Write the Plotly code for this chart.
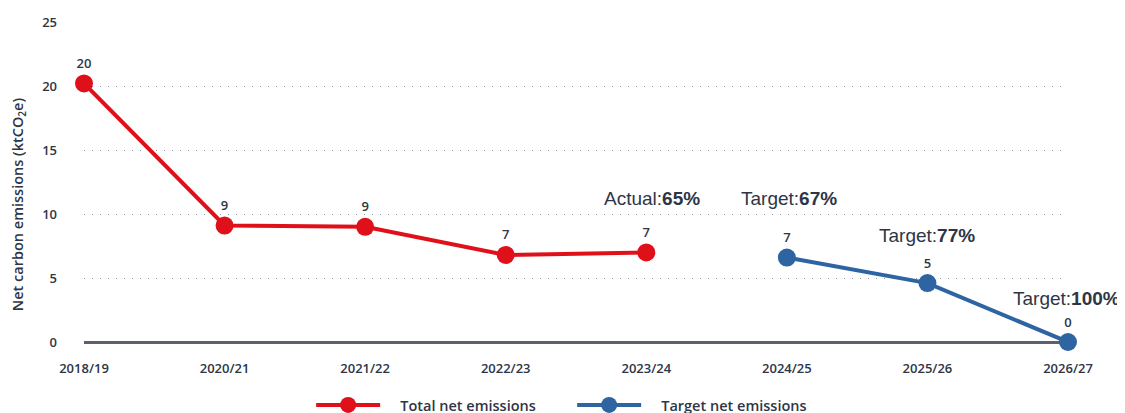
import plotly.graph_objects as go

# Net carbon emissions, ktCO2e
years = ["2018/19", "2020/21", "2021/22", "2022/23", "2023/24", "2024/25", "2025/26", "2026/27"]
actual_years = years[:5]
actual_values = [20.2, 9.1, 9.0, 6.8, 7.0]
target_years = years[5:]
target_values = [6.6, 4.6, 0.0]

# reduction labels shown above the last actual point and the targets
callout_years = ["2023/24", "2024/25", "2025/26", "2026/27"]
callout_prefix = ["Actual:", "Target:", "Target:", "Target:"]
callout_pct = ["65%", "67%", "77%", "100%"]
callout_y = [11.2, 11.2, 8.3, 3.4]
callout_shift = [6, 2, 0, -2]

y_title = "Net carbon emissions (ktCO<sub>2</sub>e)"

red = "#e0101b"
blue = "#2e64a2"
dark = "#2e3546"
gap = "\u00a0" * 4  # space between legend symbol and its text

fig = go.Figure()

fig.add_trace(go.Scatter(
    x=actual_years, y=actual_values, name=gap + "Total net emissions",
    mode="lines+markers+text",
    line=dict(color=red, width=4),
    marker=dict(color=red, size=18),
    text=[f"{v:.0f}" for v in actual_values],
    textposition="top center",
    textfont=dict(family="Open Sans", size=13, color=dark, weight=600),
    cliponaxis=False,
))

fig.add_trace(go.Scatter(
    x=target_years, y=target_values, name=gap + "Target net emissions",
    mode="lines+markers+text",
    line=dict(color=blue, width=4),
    marker=dict(color=blue, size=18),
    text=[f"{v:.0f}" for v in target_values],
    textposition="top center",
    textfont=dict(family="Open Sans", size=13, color=dark, weight=600),
    cliponaxis=False,
))

for yr, pre, pct, yv, dx in zip(callout_years, callout_prefix, callout_pct, callout_y, callout_shift):
    fig.add_annotation(
        x=yr, y=yv, text=f"{pre}<b>{pct}</b>", showarrow=False, xshift=dx,
        font=dict(family="Liberation Sans", size=19, color=dark),
    )

# y axis title as a rotated annotation (the axis title jumps when the legend sits below the plot)
fig.add_annotation(
    text=y_title, textangle=-90, showarrow=False,
    xref="paper", yref="paper", x=-0.067, y=0.431,
    xanchor="center", yanchor="middle",
    font=dict(family="Open Sans", size=14.5, color=dark, weight=600),
)

# page has an 8px body margin, so the figure is a bit smaller than the window
fig.update_layout(
    width=1117, height=405,
    margin=dict(l=76, r=57, t=14, b=71, autoexpand=False),
    plot_bgcolor="white", paper_bgcolor="white",
    font=dict(family="Open Sans", color=dark),
    legend=dict(
        orientation="h", x=0.2714, xref="container", xanchor="left",
        y=-0.197, yref="paper", yanchor="middle",
        font=dict(family="Open Sans", size=14.5, color=dark, weight=600),
        itemwidth=64, entrywidth=182,
    ),
)

fig.update_xaxes(
    type="category", categoryorder="array", categoryarray=years,
    range=[0, len(years) - 1], automargin=False,
    showgrid=False, showline=False, zeroline=False,
    ticks="", ticklabelstandoff=17,
    tickfont=dict(family="Open Sans", size=13, color=dark, weight=600),
)

fig.update_yaxes(
    range=[0, 25], tickvals=[0, 5, 10, 15, 20, 25], automargin=False,
    showgrid=True, gridcolor="#8f959e", griddash="1px,7px", gridwidth=1.3,
    zeroline=True, zerolinecolor="#5b6172", zerolinewidth=2.5,
    showline=False, ticks="", ticklabelstandoff=26,
    tickfont=dict(family="Open Sans", size=13, color=dark, weight=600),
)

fig.write_html("out.html")
